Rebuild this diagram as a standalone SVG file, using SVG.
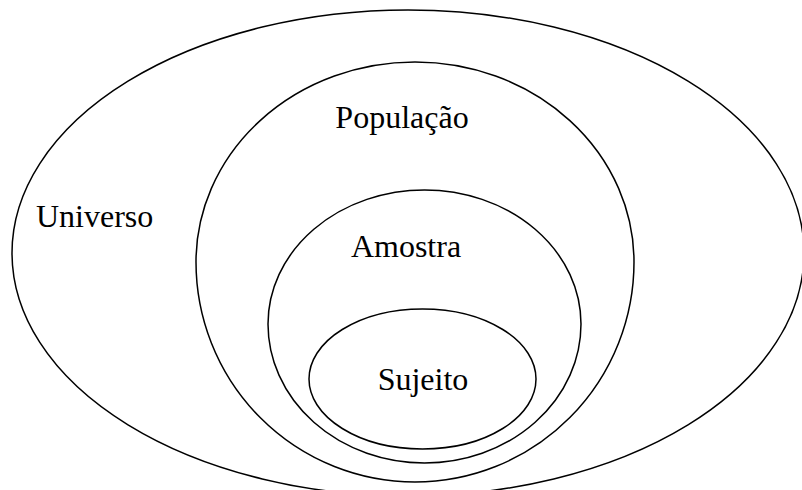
<svg xmlns="http://www.w3.org/2000/svg" width="802" height="490" viewBox="0 0 802 490">
<style>
.e{fill:none;stroke:#000;stroke-width:1.5}
.t{font-family:"Liberation Serif","Times New Roman",serif;font-size:32px;fill:#000}
</style>
<rect width="802" height="490" fill="#fff"/>
<g id="universo"><ellipse class="e" cx="408" cy="253" rx="396" ry="243"/><text class="t" x="36" y="227">Universo</text></g>
<g id="populacao"><path class="e" d="M196,262 A219,200 0 0 1 634,262 A219,220 0 0 1 196,262 Z"/><text class="t" x="402" y="128" text-anchor="middle">População</text></g>
<g id="amostra"><path class="e" d="M268,324 A156.5,134 0 0 1 581,324 A156.5,139 0 0 1 268,324 Z"/><text class="t" x="406" y="257" text-anchor="middle">Amostra</text></g>
<g id="sujeito"><ellipse class="e" cx="422.5" cy="379" rx="113.5" ry="70"/><text class="t" x="423" y="390" text-anchor="middle">Sujeito</text></g>
<g id="connectors"/>
</svg>
